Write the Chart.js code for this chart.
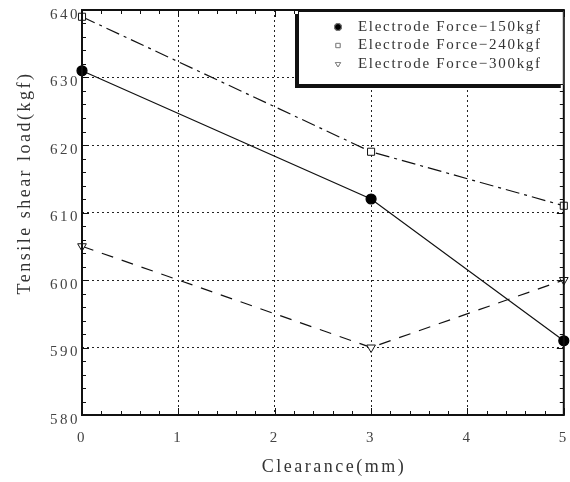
<!DOCTYPE html>
<html>
<head>
<meta charset="utf-8">
<script src="https://cdn.jsdelivr.net/npm/chart.js@4"></script>
<style>
  html, body { margin: 0; padding: 0; background: #fff; }
  #wrap { width: 570px; height: 482px; }
</style>
</head>
<body>
<div id="wrap"><canvas id="c" width="570" height="482"></canvas></div>
<script>
// Tensile shear load vs clearance, three electrode forces
const clearance = [0, 3, 5];
const force150 = [631, 612, 591];
const force240 = [639, 619, 611];
const force300 = [605, 590, 600];
const seriesLabels = ['Electrode Force\u2212150kgf', 'Electrode Force\u2212240kgf', 'Electrode Force\u2212300kgf'];
const xTicks = [0, 1, 2, 3, 4, 5];
const yTicks = [580, 590, 600, 610, 620, 630, 640];
const xTitle = 'Clearance(mm)';
const yTitle = 'Tensile shear load(kgf)';

const SERIF = '"Liberation Serif", "DejaVu Serif", serif';

function toXY(xs, ys) {
    return xs.map((x, i) => ({ x: x, y: ys[i] }));
}

// wide letter spacing for the tick labels (scanned look)
const spacingPlugin = {
    id: 'spacing',
    beforeDraw(chart) {
        chart.ctx.letterSpacing = '2.5px';
    }
};

// frame + inward minor/major ticks
const framePlugin = {
    id: 'frame',
    afterDraw(chart) {
        const { ctx, chartArea: a, scales } = chart;
        ctx.save();
        ctx.strokeStyle = '#111';
        ctx.lineWidth = 1;
        ctx.beginPath();
        // x ticks (minor every 0.2, major every 1)
        for (let i = 0; i <= 25; i++) {
            const v = i * 0.2;
            const px = Math.round(scales.x.getPixelForValue(v)) + 0.5;
            const len = i % 5 === 0 ? 7 : 4;
            ctx.moveTo(px, a.bottom); ctx.lineTo(px, a.bottom - len);
            ctx.moveTo(px, a.top); ctx.lineTo(px, a.top + len);
        }
        // y ticks (minor every 2, major every 10)
        for (let i = 0; i <= 30; i++) {
            const v = 580 + i * 2;
            const py = Math.round(scales.y.getPixelForValue(v)) + 0.5;
            const len = i % 5 === 0 ? 7 : 4;
            ctx.moveTo(a.left, py); ctx.lineTo(a.left + len, py);
            ctx.moveTo(a.right, py); ctx.lineTo(a.right - len, py);
        }
        ctx.stroke();
        ctx.lineWidth = 2;
        ctx.strokeRect(a.left, a.top, a.right - a.left, a.bottom - a.top);

        // axis titles
        ctx.fillStyle = '#333';
        ctx.font = '18px ' + SERIF;
        ctx.letterSpacing = '2.5px';
        ctx.textAlign = 'center';
        ctx.textBaseline = 'middle';
        ctx.fillText(xTitle, 334, 467);
        ctx.translate(25, 183);
        ctx.rotate(-Math.PI / 2);
        ctx.fillText(yTitle, 0, 0);
        ctx.restore();
    }
};

// legend box in upper right of the plot
const legendPlugin = {
    id: 'boxLegend',
    afterDraw(chart) {
        const { ctx, chartArea: a } = chart;
        const bx = 298, by = a.top + 1, bw = a.right - 298, bh = 74;
        ctx.save();
        // shadow on left and bottom
        ctx.fillStyle = '#111';
        ctx.fillRect(bx - 3, by + 3, bw, bh);
        ctx.fillStyle = '#fff';
        ctx.fillRect(bx, by, bw, bh);
        ctx.strokeStyle = '#111';
        ctx.lineWidth = 1;
        ctx.strokeRect(bx + 0.5, by + 0.5, bw - 1, bh - 1);

        ctx.font = '15px ' + SERIF;
        ctx.letterSpacing = '1.7px';
        ctx.textBaseline = 'middle';
        chart.data.datasets.forEach((ds, i) => {
            const cy = by + 16 + i * 18.5;
            Chart.helpers.drawPoint(ctx, {
                pointStyle: ds.pointStyle,
                radius: i === 0 ? 3.5 : 3,
                rotation: ds.pointRotation || 0,
                borderWidth: 0.8
            }, 338, cy);
            ctx.fillStyle = i === 0 ? '#000' : '#fff';
            ctx.strokeStyle = '#888';
            ctx.fill();
            ctx.stroke();
            ctx.fillStyle = '#333';
            ctx.fillText(ds.label, 358, cy);
        });
        ctx.restore();
    }
};

const datasets = [
    {
        label: seriesLabels[0],
        data: toXY(clearance, force150),
        borderColor: '#111',
        borderWidth: 1.2,
        pointStyle: 'circle',
        pointRadius: 5,
        pointBackgroundColor: '#000',
        pointBorderColor: '#000',
        tension: 0
    },
    {
        label: seriesLabels[1],
        data: toXY(clearance, force240),
        borderColor: '#111',
        borderWidth: 1.2,
        borderDash: [14, 5, 3, 5],
        pointStyle: 'rect',
        pointRadius: 5,
        pointBackgroundColor: '#fff',
        pointBorderColor: '#111',
        pointBorderWidth: 1,
        tension: 0
    },
    {
        label: seriesLabels[2],
        data: toXY(clearance, force300),
        borderColor: '#111',
        borderWidth: 1.2,
        borderDash: [12, 9],
        pointStyle: 'triangle',
        pointRotation: 180,
        pointRadius: 5,
        pointBackgroundColor: '#fff',
        pointBorderColor: '#111',
        pointBorderWidth: 1,
        tension: 0
    }
];

new Chart(document.getElementById('c').getContext('2d'), {
    type: 'line',
    data: { datasets },
    options: {
        responsive: false,
        animation: false,
        clip: false,
        layout: { padding: { top: 10, right: 3, left: 0, bottom: 0 } },
        plugins: {
            legend: { display: false },
            tooltip: { enabled: false }
        },
        scales: {
            x: {
                type: 'linear',
                min: 0,
                max: 5,
                afterBuildTicks(scale) {
                    scale.ticks = xTicks.map(v => ({ value: v }));
                },
                afterFit(scale) {
                    scale.height = 67;
                    scale.paddingLeft = 0;
                    scale.paddingRight = 0;
                },
                grid: { color: '#222', lineWidth: 1, drawTicks: false },
                border: { display: false, dash: [2, 3] },
                ticks: {
                    color: '#444',
                    padding: 14,
                    maxRotation: 0,
                    font: { family: SERIF, size: 15 }
                }
            },
            y: {
                type: 'linear',
                min: 580,
                max: 640,
                afterBuildTicks(scale) {
                    scale.ticks = yTicks.map(v => ({ value: v }));
                },
                afterFit(scale) {
                    scale.width = 82;
                    scale.paddingTop = 0;
                    scale.paddingBottom = 0;
                },
                grid: { color: '#222', lineWidth: 1, drawTicks: false },
                border: { display: false, dash: [2, 3] },
                ticks: {
                    color: '#444',
                    padding: 2,
                    labelOffset: 5,
                    font: { family: SERIF, size: 15 }
                }
            }
        }
    },
    plugins: [spacingPlugin, framePlugin, legendPlugin]
});
</script>
</body>
</html>
